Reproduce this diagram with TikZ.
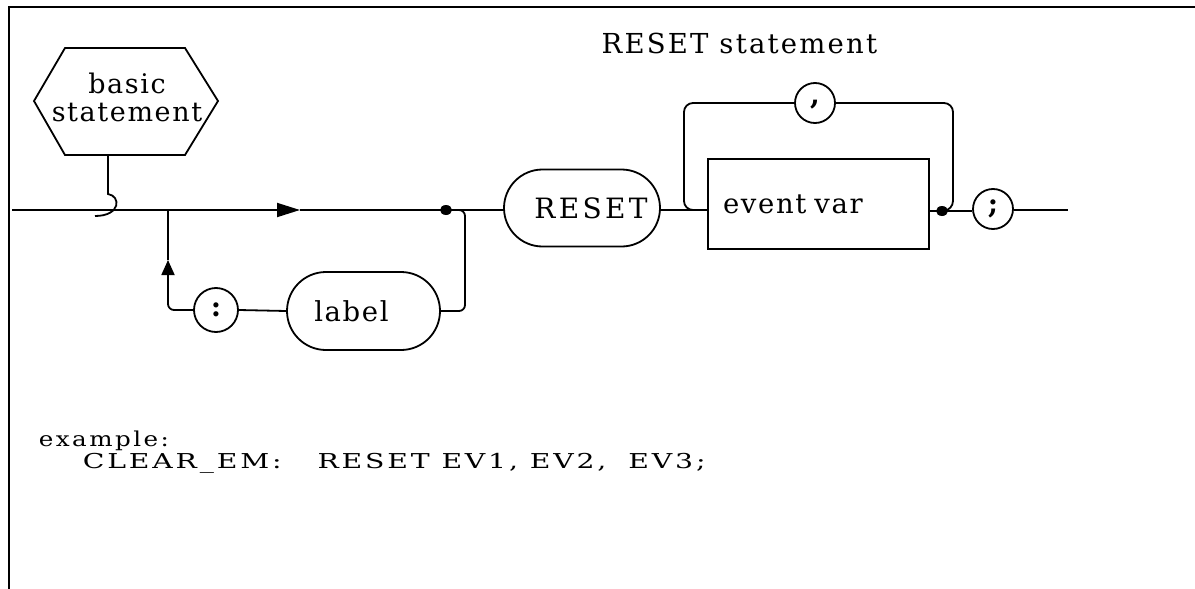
\documentclass[tikz,border=0pt]{standalone}
\usepackage{fontspec}
\setmainfont{DejaVu Serif}
\newfontfamily\boxfont[LetterSpace=6]{DejaVu Serif}
\newfontfamily\capfont[LetterSpace=12]{DejaVu Serif}
\newfontfamily\titlefont[LetterSpace=8]{DejaVu Serif}
\newfontfamily\exfont[LetterSpace=10]{DejaVu Serif}
\newfontfamily\punctfont{DejaVu Serif Bold}
\usetikzlibrary{shapes.misc,shapes.geometric,arrows.meta}
\begin{document}
\begin{tikzpicture}[x=1pt,y=-1pt,line width=1.8pt,
  term/.style={draw,rounded rectangle,inner sep=0pt,font=\boxfont\fontsize{27.5}{32}\selectfont},
  punct/.style={draw,circle,inner sep=0pt,minimum size=40pt,font=\punctfont\fontsize{28}{32}\selectfont},
  nonterm/.style={draw,rectangle,inner ysep=0pt,font=\boxfont\fontsize{27.5}{32}\selectfont},
  dot/.style={ellipse,fill,inner sep=0pt,minimum width=12pt,minimum height=10pt},
  mainarrow/.style={-{Triangle[length=23pt,width=14pt]}},
  uparrow/.style={-{Triangle[length=15pt,width=13pt]}},
  extxt/.style={anchor=base west,inner sep=0pt,font=\exfont\fontsize{20.5}{24}\selectfont}]
\useasboundingbox (0,0) rectangle (1195,589);
% frame
\coordinate (ftr) at (1195,7);
\coordinate (ftl) at (9,7);
\coordinate (fbl) at (9,589);
\draw[line width=2.4pt] (ftr) -- (ftl) -- (fbl);
% title
\node[anchor=base east,font=\titlefont\fontsize{27.5}{32}\selectfont,inner sep=0pt] (title) at (878,53) {RESET statement};
% basic statement hexagon
\node[align=center,inner sep=0pt,font=\boxfont\fontsize{27}{28}\selectfont] (bs) at (127,97) {basic\\statement};
\coordinate (hc) at (126,101);
\draw (hc) ++(-92,0) -- ++(31,-53) -- ++(120,0) -- ++(33,53) -- ++(-33,54) -- ++(-120,0) -- cycle;
% main line coordinates
\coordinate (hb) at (108,155);
\coordinate (start) at (12,210);
\coordinate (a1) at (300,210);
\coordinate (sp) at (168,210);
\coordinate (d1) at (446,210);
\coordinate (rc) at (465,210);
\coordinate (h1) at (108,194);
\coordinate (h2) at (95,216);
\coordinate (bl) at (168,310);
\coordinate (upt) at (168,260);
% nodes
\node[punct,minimum size=44pt] (colon) at (216,310) {:};
\node[term,minimum width=153pt,minimum height=78pt] (label) at (363.5,311) {\hspace*{-24pt}label};
\node[term,minimum width=156pt,minimum height=77pt,font=\capfont\fontsize{28}{32}\selectfont] (reset) at (582,208) {\hspace*{18pt}RESET};
\node[nonterm,minimum width=221pt,minimum height=90pt,text width=191pt,align=left,inner xsep=15pt] (ev) at (818.5,204) {event\hspace{8pt}var};
\node[punct] (comma) at (815,103) {\raisebox{-1pt}[0pt][0pt]{,}};
\node[punct] (semi) at (993,209) {;};
\coordinate (lb) at (684,210);
\coordinate (lt) at (684,103);
\coordinate (rt) at (953,103);
\coordinate (rb) at (953,210);
\coordinate (d2) at (942,211);
\coordinate (endp) at (1068,210);
% connectors
\draw[mainarrow] (start) -- (a1);
\draw (a1) -- (d1) -- (reset.west |- d1);
\draw (hb) -- (h1) .. controls (121,196) and (121,216) .. (h2);
\draw[rounded corners=6pt,uparrow] (colon.west) -- (bl) -- (upt);
\draw (upt) -- (sp);
\draw (colon.east) -- (label.west);
\draw[rounded corners=6pt] (label.east) -- (label.east -| rc) -- (rc) -- (d1);
\node[dot] at (d1) {};
\draw (reset.east |- lb) -- (ev.west |- lb);
\draw[rounded corners=9pt] (ev.west |- lb) -- (lb) -- (lt) -- (comma.west);
\draw[rounded corners=9pt] (comma.east) -- (rt) -- (rb) -- (d2);
\draw (ev.east |- d2) -- (d2) -- (semi.west |- d2);
\node[dot] at (d2) {};
\draw (semi.east |- endp) -- (endp);
% example
\node[extxt] (ex1) at (38,446) {\scalebox{1.2}[1]{example:}};
\node[extxt] (ex2) at (82,468) {\scalebox{1.38}[1]{CLEAR\_EM:\hspace{26pt}RESET EV1, EV2,\hspace{16pt}EV3;}};
\end{tikzpicture}
\end{document}
